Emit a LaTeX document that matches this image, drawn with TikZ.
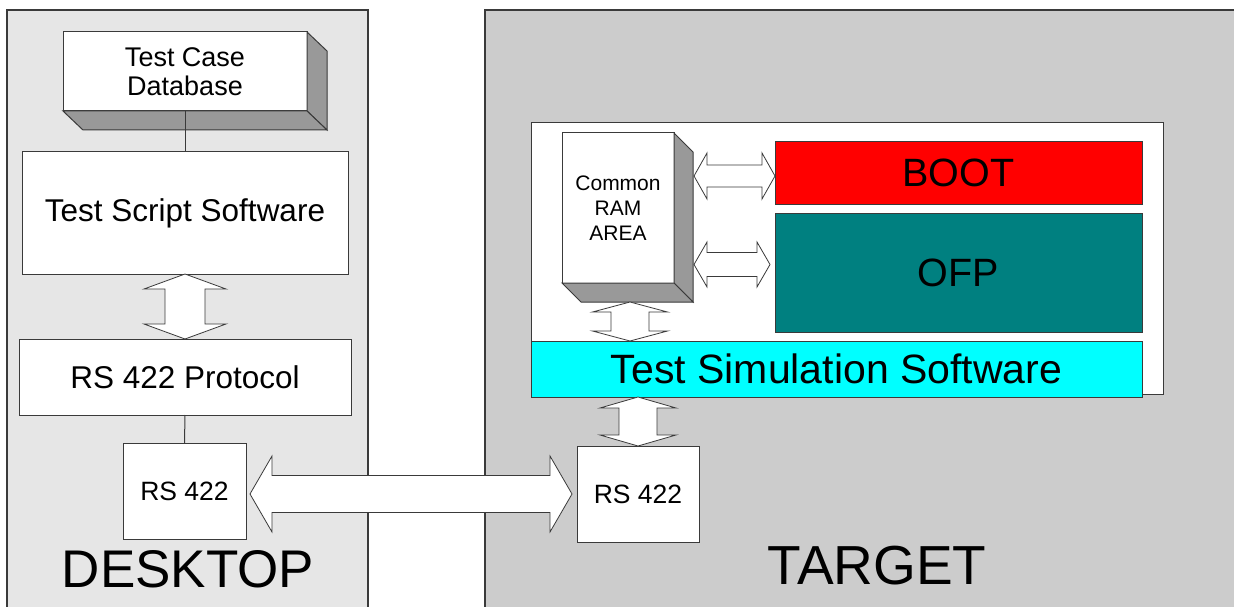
\documentclass[tikz,border=0pt]{standalone}
\usepackage{fontspec}
\setmainfont{Liberation Sans}
\usetikzlibrary{calc}
\definecolor{deskbg}{HTML}{E6E6E6}
\definecolor{targbg}{HTML}{CCCCCC}
\definecolor{edgecol}{HTML}{3A3A3A}
\definecolor{shadecol}{HTML}{999999}
\definecolor{simcyan}{HTML}{00FFFF}
\definecolor{bootred}{HTML}{FF0000}
\definecolor{ofpteal}{HTML}{008080}

% vertical double block arrow: #1 top point, #2 bottom point, #3 shaft half width, #4 head half width, #5 head length
\newcommand{\VDArrow}[5]{\draw[blockarrow] let \p1=#1, \p2=#2 in
  (\x1,\y1) -- (\x1+#4,\y1-#5) -- (\x1+#3,\y1-#5) -- (\x1+#3,\y2+#5) -- (\x1+#4,\y2+#5) -- (\x1,\y2)
  -- (\x1-#4,\y2+#5) -- (\x1-#3,\y2+#5) -- (\x1-#3,\y1-#5) -- (\x1-#4,\y1-#5) -- cycle;}
% horizontal double block arrow: #1 left point, #2 right point
\newcommand{\HDArrow}[5]{\draw[blockarrow] let \p1=#1, \p2=#2 in
  (\x1,\y1) -- (\x1+#5,\y1+#4) -- (\x1+#5,\y1+#3) -- (\x2-#5,\y1+#3) -- (\x2-#5,\y1+#4) -- (\x2,\y1)
  -- (\x2-#5,\y1-#4) -- (\x2-#5,\y1-#3) -- (\x1+#5,\y1-#3) -- (\x1+#5,\y1-#4) -- cycle;}

\begin{document}
\begin{tikzpicture}[x=1pt,y=-1pt,
  panel/.style={draw=edgecol, line width=1.2pt},
  boxline/.style={draw=edgecol, line width=1pt},
  blockbox/.style={boxline, anchor=north west, inner sep=0pt, outer sep=0pt, align=center},
  blockarrow/.style={draw=edgecol, line width=0.8pt, fill=white},
  conn/.style={draw=edgecol, line width=1pt},
  bigtext/.style={inner sep=0pt, anchor=base}]
\useasboundingbox (0,0) rectangle (1234,607);

% panels
\begin{scope}
\clip (0,0) rectangle (1234,607);
\draw[panel, fill=deskbg] (7,10) rectangle (368,625);
\draw[panel, fill=targbg] (485,10) rectangle (1250,625);
\end{scope}

% ---------------- DESKTOP ----------------
\node[blockbox, fill=white, minimum width=244pt, minimum height=79pt,
      font=\fontsize{27}{29}\selectfont] (tcd) at (63,32) {Test Case\\Database};
\draw[boxline, fill=shadecol] (tcd.north east) -- ++(20,19) -- ++(0,79) -- (tcd.south east) -- cycle;
\draw[boxline, fill=shadecol] (tcd.south west) -- ++(20,19) -- ($(tcd.south east)+(20,19)$) -- (tcd.south east) -- cycle;

\node[blockbox, fill=white, minimum width=326pt, minimum height=122pt,
      font=\fontsize{31.5}{31.5}\selectfont] (tss) at (22,152) {Test Script Software};
\node[blockbox, fill=white, minimum width=332pt, minimum height=76pt,
      font=\fontsize{31.5}{31.5}\selectfont] (prot) at (19,339) {RS 422 Protocol};
\node[blockbox, fill=white, minimum width=123pt, minimum height=96pt,
      font=\fontsize{26.5}{26.5}\selectfont] (rs1) at (123,443) {RS 422};

\draw[conn] (tcd.south) -- (tss.north);
\draw[conn] (prot.south) -- (rs1.north);
\VDArrow{(tss.south)}{(prot.north)}{20pt}{41pt}{15pt}

\node[bigtext, font=\fontsize{53}{53}\selectfont] (desk) at (188,587) {DESKTOP};

% ---------------- TARGET ----------------
\draw[boxline, fill=white] (531,123) rectangle (1163,394);

\node[blockbox, fill=white, minimum width=112pt, minimum height=150pt,
      font=\fontsize{21}{25}\selectfont] (ram) at (562,133) {Common\\RAM\\AREA};
\draw[boxline, fill=shadecol] (ram.north east) -- ++(19,19) -- ++(0,150) -- (ram.south east) -- cycle;
\draw[boxline, fill=shadecol] (ram.south west) -- ++(19,19) -- ($(ram.south east)+(19,19)$) -- (ram.south east) -- cycle;

\node[blockbox, fill=bootred, minimum width=367pt, minimum height=62pt,
      font=\fontsize{39.5}{39.5}\selectfont] (boot) at (775,142) {BOOT};
\node[blockbox, fill=ofpteal, minimum width=367pt, minimum height=119pt,
      font=\fontsize{39.5}{39.5}\selectfont] (ofp) at (775,213) {OFP};
\node[blockbox, fill=simcyan, minimum width=611pt, minimum height=56pt,
      font=\fontsize{41}{41}\selectfont] (sim) at (531,341) {Test Simulation Software};
\node[blockbox, fill=white, minimum width=122pt, minimum height=96pt,
      font=\fontsize{26.5}{26.5}\selectfont] (rs2) at (577,446) {RS 422};

\node[bigtext, font=\fontsize{55}{55}\selectfont] (targ) at (877,584) {TARGET};

% block arrows
\coordinate (ramlow) at ([xshift=12pt,yshift=-19pt]ram.south);
\coordinate (simtop) at (sim.north);
\VDArrow{(ramlow)}{(simtop)}{19pt}{37.5pt}{10pt}

\coordinate (simlow) at (sim.south -| rs2.north);
\VDArrow{(simlow)}{(rs2.north)}{19pt}{38pt}{11pt}

\coordinate (rs1out) at ([xshift=4pt]rs1.east |- rs2.west);
\coordinate (rs2in) at ([xshift=-5pt]rs2.west);
\HDArrow{(rs1out)}{(rs2in)}{18.5pt}{38pt}{22pt}

\coordinate (ramboot) at ([xshift=20pt,yshift=-3pt]ram.east |- boot.west);
\HDArrow{(ramboot)}{(boot.west)}{11pt}{23pt}{13pt}

\coordinate (ramofp) at ([xshift=20pt,yshift=8pt]ram.east |- ofp.west);
\coordinate (ofpin) at ([xshift=-5pt]ofp.west);
\HDArrow{(ramofp)}{(ofpin)}{12pt}{22.5pt}{13pt}
\end{tikzpicture}
\end{document}
